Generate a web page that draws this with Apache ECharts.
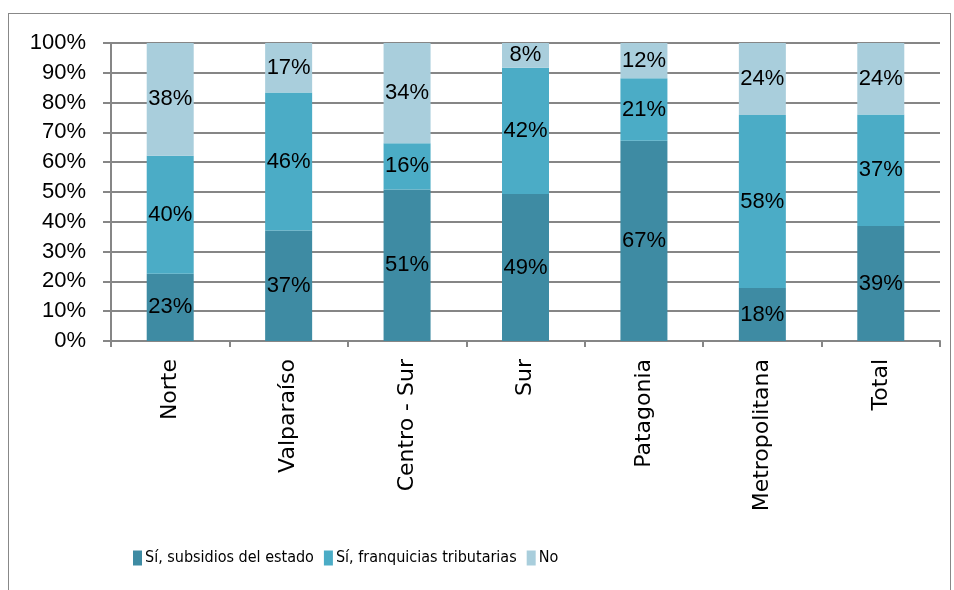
<!DOCTYPE html>
<html><head><meta charset="utf-8">
<script src="https://cdn.jsdelivr.net/npm/echarts@6/dist/echarts.min.js"></script>
<style>html,body{margin:0;padding:0;background:#fff}#c{width:954px;height:590px}
#frame{position:absolute;left:8px;top:13px;width:943px;height:580px;border:1px solid #888;box-sizing:border-box;pointer-events:none}</style>
</head><body><div id="c"></div><div id="frame"></div>
<script>
const categories = ['Norte','Valparaíso','Centro - Sur','Sur','Patagonia','Metropolitana','Total'];
const subsidios = [22.6, 37.1, 50.8, 49.3, 67.2, 17.8, 38.6];
const franquicias = [39.6, 46.3, 15.6, 42.4, 21.0, 58.0, 37.4];
const no = [37.8, 16.6, 33.6, 8.3, 11.8, 24.2, 24.0];
const seriesNames = ['Sí, subsidios del estado','Sí, franquicias tributarias','No'];
const yTicks = [0,10,20,30,40,50,60,70,80,90,100];
const colors = ['#3E8BA3','#4BACC6','#A9CEDC'];

const chart = echarts.init(document.getElementById('c'));
const lbl = {show:true, position:'inside', color:'#000', fontSize:22, fontFamily:'Liberation Sans', formatter:p=>Math.round(p.value)+'%'};
function mk(name, data, i){
  return {name, type:'bar', stack:'s', data, barWidth:47, itemStyle:{color:colors[i]}, label:lbl};
}
chart.setOption({
  animation:false,
  color:colors,
  grid:{left:111, right:14, top:43, bottom:249, containLabel:false},
  xAxis:{type:'category', data:categories,
    axisLine:{lineStyle:{color:'#868686', width:2}},
    axisTick:{show:true, length:6, lineStyle:{color:'#868686', width:2}},
    axisLabel:{rotate:90, color:'#000', fontSize:22, fontFamily:'DejaVu Sans', margin:18}},
  yAxis:{type:'value', min:0, max:100, interval:10,
    axisLine:{show:true, lineStyle:{color:'#868686', width:2}},
    axisTick:{show:true, length:8, lineStyle:{color:'#868686', width:2}},
    splitLine:{lineStyle:{color:'#868686', width:2}},
    axisLabel:{color:'#000', fontSize:22, fontFamily:'Liberation Sans', margin:25,
      formatter:v=>yTicks.includes(v)?v+'%':''}},
  legend:{bottom:19, left:128, itemWidth:9, itemHeight:15, itemGap:10,
    textStyle:{fontSize:16, color:'#000', fontFamily:'DejaVu Sans Condensed', padding:[0,0,0,-2]},
    data:seriesNames.map(n=>({name:n, icon:'rect'}))},
  series:[mk(seriesNames[0],subsidios,0), mk(seriesNames[1],franquicias,1), mk(seriesNames[2],no,2)]
});
</script></body></html>
